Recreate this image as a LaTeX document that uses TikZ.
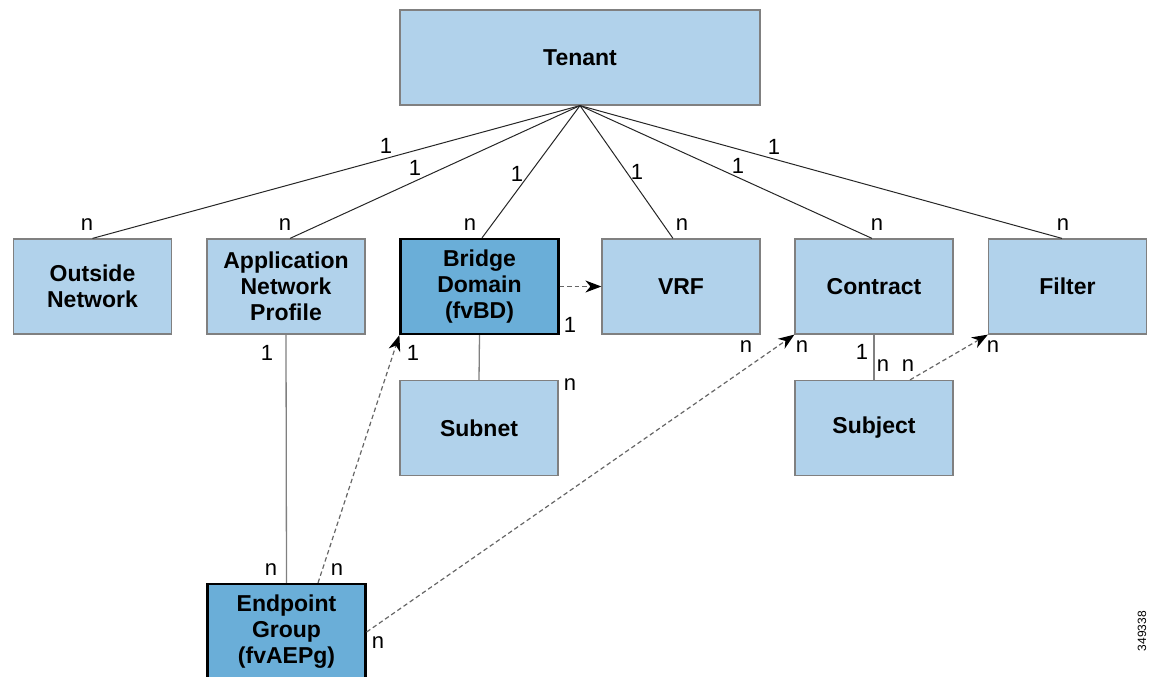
\documentclass[tikz,border=0pt]{standalone}
\usepackage{fontspec}
\setmainfont{Liberation Sans}
\usetikzlibrary{arrows.meta,calc}
\definecolor{lightbox}{HTML}{B1D2EB}
\definecolor{darkbox}{HTML}{6AAED8}
\definecolor{edgegray}{HTML}{808080}
\begin{document}
\begin{tikzpicture}[x=1pt,y=-1pt,
  lbox/.style={draw=edgegray, line width=1.2pt, fill=lightbox, minimum width=158pt, minimum height=95pt, inner sep=0pt, align=center, font=\fontsize{23}{26}\selectfont\bfseries},
  dbox/.style={lbox, draw=black, line width=2.2pt, fill=darkbox},
  lab/.style={font=\fontsize{22}{22}\selectfont, inner sep=0pt},
  idlab/.style={font=\fontsize{12}{12}\selectfont, inner sep=0pt, rotate=90},
  link/.style={draw=black!85, line width=1pt},
  vlink/.style={draw=edgegray, line width=1.3pt},
  dlink/.style={draw=black!60, line width=1.2pt, dash pattern=on 4.5pt off 3pt, -{Stealth[length=16pt,width=12pt,inset=5pt,black]}}]
\useasboundingbox (0,0) rectangle (1156,677);
\clip (0,0) rectangle (1156,677);
% boxes
\node[lbox, minimum width=360pt] (tenant) at (580,57.5) {Tenant};
\node[lbox] (outside) at (92.5,286.5) {Outside\\Network};
\node[lbox] (anp) at (286,286.5) {Application\\Network\\Profile};
\node[dbox] (bd) at (479.5,286.5) {Bridge\\Domain\\(fvBD)};
\node[lbox] (vrf) at (681,286.5) {VRF};
\node[lbox] (contract) at (874,286.5) {Contract};
\node[lbox] (filter) at (1067.5,286.5) {Filter};
\node[lbox] (subnet) at (479,428) {Subnet};
\node[lbox] (subject) at (874,428) {\raisebox{-3pt}{Subject}};
\node[dbox] (epg) at (286.5,631.5) {Endpoint\\Group\\(fvAEPg)};
% tenant links
\draw[link] (tenant.south) -- (outside.north);
\draw[link] (tenant.south) -- ($(anp.north)+(4,0)$);
\draw[link] (tenant.south) -- ($(bd.north)+(2.5,0)$);
\draw[link] (tenant.south) -- ($(vrf.north)+(-8,0)$);
\draw[link] (tenant.south) -- ($(contract.north)+(-2,0)$);
\draw[link] (tenant.south) -- ($(filter.north)+(-5.5,0)$);
% vertical links
\draw[vlink] (anp.south) -- (epg.north);
\draw[vlink] (bd.south) -- (subnet.north);
\draw[vlink] (contract.south) -- (subject.north);
% dashed references
\draw[dlink] (bd.east) -- (vrf.west);
\draw[dlink] ($(epg.north)+(31.5,0)$) -- (bd.south west);
\draw[dlink] ($(epg.east)+(0,0.5)$) -- (contract.south west);
\draw[dlink] ($(subject.north)+(36,0)$) -- (filter.south west);
% cardinality labels
\node[lab] (l1) at (386,146) {1};
\node[lab] (l2) at (415,168) {1};
\node[lab] (l3) at (517,174) {1};
\node[lab] (l4) at (637,172) {1};
\node[lab] (l5) at (738,166) {1};
\node[lab] (l6) at (774,147) {1};
\node[lab] (n1) at (87,225) {n};
\node[lab] (n2) at (285,225) {n};
\node[lab] (n3) at (470,225) {n};
\node[lab] (n4) at (682,225) {n};
\node[lab] (n5) at (877,225) {n};
\node[lab] (n6) at (1063,225) {n};
\node[lab] (b1) at (570,325) {1};
\node[lab] (a1) at (267,353) {1};
\node[lab] (b2) at (413,353) {1};
\node[lab] (s1) at (570,385) {n};
\node[lab] (e1) at (271,570) {n};
\node[lab] (e2) at (337,570) {n};
\node[lab] (e3) at (378,643) {n};
\node[lab] (c1) at (746,347) {n};
\node[lab] (c2) at (802,347) {n};
\node[lab] (c3) at (862,352) {1};
\node[lab] (sj1) at (883,366) {n};
\node[lab] (sj2) at (908,366) {n};
\node[lab] (f1) at (993,347) {n};
\node[idlab] (id) at (1142,631) {349338};
\end{tikzpicture}
\end{document}
